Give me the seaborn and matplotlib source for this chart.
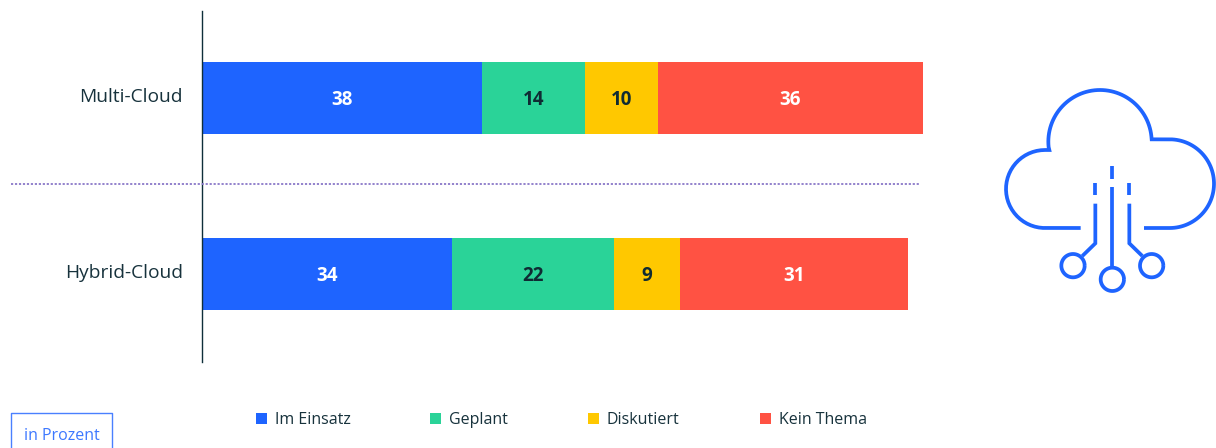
import numpy as np
import pandas as pd
import matplotlib
matplotlib.use('Agg')
import matplotlib.pyplot as plt
from matplotlib.patches import Rectangle
from matplotlib.transforms import ScaledTranslation
import seaborn as sns

#data
categories = ['Multi-Cloud', 'Hybrid-Cloud']
im_einsatz = [38, 34]
geplant = [14, 22]
diskutiert = [10, 9]
kein_thema = [36, 31]
series_names = ['Im Einsatz', 'Geplant', 'Diskutiert', 'Kein Thema']
series_values = [im_einsatz, geplant, diskutiert, kein_thema]
colors = ['#1e64ff', '#2ad398', '#ffc800', '#ff5243']
label_colors = ['white', '#0f2b33', '#0f2b33', 'white']
unit_label = 'in Prozent'

dark = '#17323c'
blue = '#1e64ff'

sns.set_theme(style='white')
plt.rcParams['font.family'] = ['Open Sans', 'DejaVu Sans']

W, H = 1216, 448
fig = plt.figure(figsize=(W / 100, H / 100), dpi=100)

#bar axes: left edge 202.5px, top 11px, bottom 362px, 7.35px per percent
ax = fig.add_axes([202.5 / W, 1 - 362 / H, 735 / W, 351 / H])

#stacked bars
left = np.zeros(len(categories))
for name, vals, col, lab_col in zip(series_names, series_values, colors, label_colors):
    df = pd.DataFrame({'cat': categories, 'val': vals})
    sns.barplot(data=df, y='cat', x='val', order=categories, color=col, saturation=1,
                width=0.409, left=left, ax=ax, linewidth=0)
    for i, v in enumerate(vals):
        ax.text(left[i] + v / 2, i + 0.01, str(v), ha='center', va='center', color=lab_col,
                fontsize=13.5, fontweight='bold')
    left = left + np.array(vals)

ax.set_xlim(0, 100)
ax.set_ylim(1.5, -0.494)
ax.set_xlabel('')
ax.set_ylabel('')
ax.set_xticks([])
ax.set_yticks(range(len(categories)))
ax.set_yticklabels(categories, fontsize=13.8, color=dark)
ax.tick_params(axis='y', length=0, pad=14)
#move the category labels up a little
shift = ScaledTranslation(0, 3 / 100, fig.dpi_scale_trans)
for t in ax.get_yticklabels():
    t.set_transform(t.get_transform() + shift)
for s in ['top', 'right', 'bottom']:
    ax.spines[s].set_visible(False)
ax.spines['left'].set_color('#0f2f3a')
ax.spines['left'].set_linewidth(1)

#overlay in pixel coordinates for separator, legend, box and icon
ov = fig.add_axes([0, 0, 1, 1], facecolor='none')
ov.set_xlim(0, W)
ov.set_ylim(H, 0)
ov.axis('off')

#dotted separator
ov.plot([11, 920], [184, 184], color='#8a78c8', lw=1.3, linestyle=(0, (1.2, 1.0)))

#legend
for x, name, col in zip([256, 430, 588, 760], series_names, colors):
    ov.add_patch(Rectangle((x, 413), 11, 11, color=col, lw=0))
    ov.text(x + 19, 420, name, ha='left', va='center', fontsize=11.5, color=dark)

#unit box
ov.plot([11, 11, 112, 112], [448, 413.5, 413.5, 448], color='#4a80ff', lw=1)
ov.text(62, 436, unit_label, ha='center', va='center', fontsize=11.5, color='#3d78ff')


#icon, from zoom coordinates
def zx(x):
    return 990 + np.asarray(x, dtype=float) / 3


def zy(y):
    return 70 + np.asarray(y, dtype=float) / 3


def arc(cx, cy, r, a0, a1):
    t = np.radians(np.linspace(a0, a1, 60))
    return cx + r * np.cos(t), cy - r * np.sin(t)


icon = dict(color=blue, lw=2.7, solid_capstyle='butt', solid_joinstyle='miter')

#cloud outline
x1, y1 = arc(165, 357, 117, 270, 90)
x2, y2 = arc(330, 215, 155, 186, 3)
x3, y3 = arc(539, 341, 133, 90, -90)
cloud_x = np.concatenate([[272], x1, [178], x2, [485], x3, [462]])
cloud_y = np.concatenate([[474], y1, [240], y2, [208], y3, [474]])
ov.plot(zx(cloud_x), zy(cloud_y), **icon)

#center stem and dash
ov.plot(zx([367, 367]), zy([350, 590]), **icon)
ov.plot(zx([367, 367]), zy([287, 326]), **icon)
#side dashes
ov.plot(zx([316, 316]), zy([338, 376]), **icon)
ov.plot(zx([418, 418]), zy([338, 376]), **icon)
#side stems with branches
ov.plot(zx([316, 316, 277]), zy([401, 520, 558]), **icon)
ov.plot(zx([418, 418, 457]), zy([401, 520, 558]), **icon)
#nodes
for cx, cy in [(249, 587), (367, 628), (485, 587)]:
    px, py = arc(cx, cy, 35, 0, 360)
    ov.plot(zx(px), zy(py), **icon)

fig.savefig('out.png', dpi=100)
